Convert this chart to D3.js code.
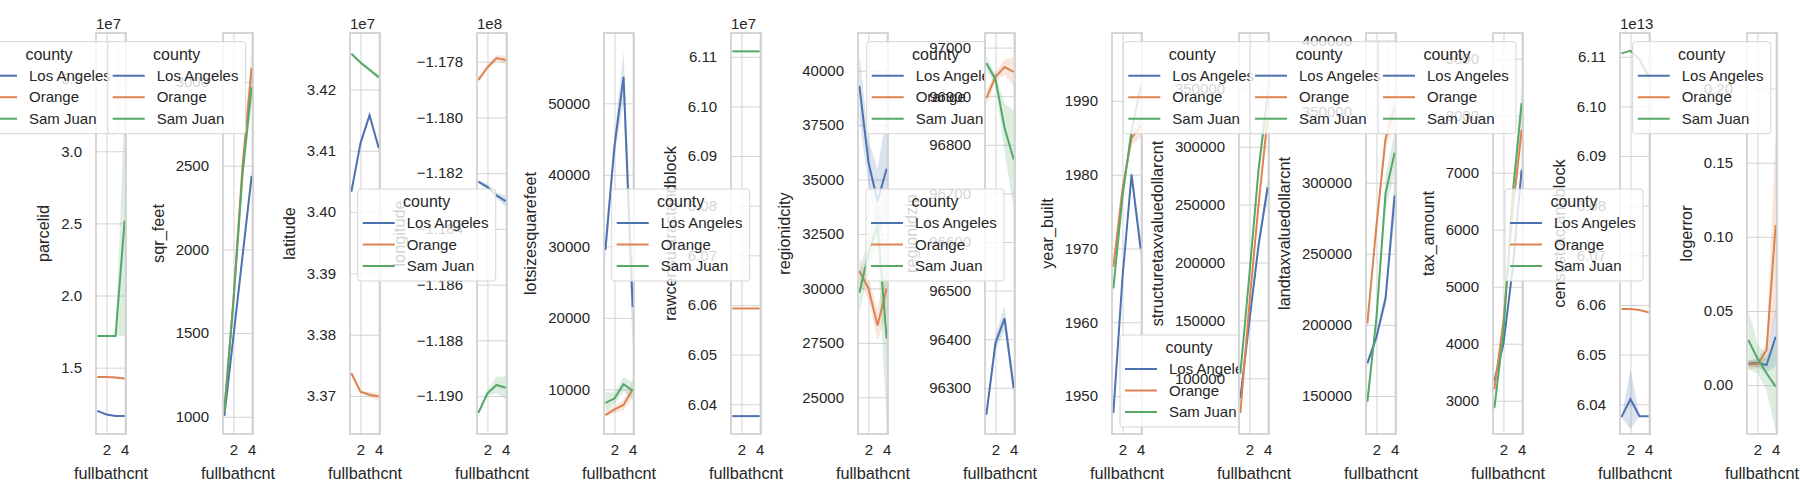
<!DOCTYPE html>
<html><head><meta charset="utf-8">
<script src="https://cdn.jsdelivr.net/npm/d3@7"></script>
<style>body{margin:0;background:#fff}text{font-family:"Liberation Sans",Arial,sans-serif;fill:#262626}</style>
</head><body><svg id="chart"></svg>
<script>
var xVals = [1, 2, 3, 4];
var counties = ["Los Angeles", "Orange", "Sam Juan"];
var colors = ["#4c72b0", "#dd8452", "#55a868"];
var yNames = ["parcelid","sqr_feet","latitude","longitude","lotsizesquarefeet","rawcensustractandblock","regionidcity","regionidzip","year_built","structuretaxvaluedollarcnt","landtaxvaluedollarcnt","tax_amount","censustractandblock","logerror"];
var offsets = ["1e7","","1e7","1e8","","1e7","","","","","","","1e13",""];
var yLimits = [[1.04,3.82],[897,3293],[3.3638,3.4292],[-1.19136,-1.17697],[3748,59832],[6.034,6.1148],[23313,41732],[96205,97030],[1944.85,1999.2],[51900,398187],[123270,405270],[2416,9451],[6.034,6.1148],[-0.033,0.2375]];
var yTicks = [
  [1.5,2.0,2.5,3.0,3.5],[1000,1500,2000,2500,3000],[3.37,3.38,3.39,3.40,3.41,3.42],
  [-1.190,-1.188,-1.186,-1.184,-1.182,-1.180,-1.178],[10000,20000,30000,40000,50000],
  [6.04,6.05,6.06,6.07,6.08,6.09,6.10,6.11],[25000,27500,30000,32500,35000,37500,40000],
  [96300,96400,96500,96600,96700,96800,96900,97000],[1950,1960,1970,1980,1990],
  [100000,150000,200000,250000,300000,350000],[150000,200000,250000,300000,350000,400000],
  [3000,4000,5000,6000,7000,8000,9000],[6.04,6.05,6.06,6.07,6.08,6.09,6.10,6.11],[0.00,0.05,0.10,0.15,0.20]];
var tickFormats = [".1f","d",".2f",".3f","d",".2f","d","d","d","d","d","d",".2f",".2f"];
var laVals = [[1.20,1.175,1.165,1.165],[1005,1480,1960,2440],[3.4033,3.4112,3.4158,3.4105],[-1.1823,-1.1825,-1.1828,-1.1830],[29500,44000,53700,21500],[6.0376,6.0376,6.0376,6.0376],[39300,35800,34000,35500],[96245,96392,96443,96300],[1947.7,1966,1980,1970],[83000,150000,215000,265000],[173000,191500,218500,291000],[3350,4000,5300,7050],[6.0374,6.0410,6.0376,6.0376],[0.0146,0.0150,0.0135,0.0326]];
var orVals = [[1.435,1.435,1.432,1.425],[1030,1700,2500,3085],[3.3737,3.3707,3.3702,3.3699],[-1.17865,-1.1782,-1.17787,-1.17794],[6400,7200,7800,10000],[6.0593,6.0593,6.0593,6.0593],[30800,30000,28300,30000],[96896,96940,96960,96950],[1967.5,1978,1985,1986.6],[70000,165000,250000,325000],[201000,270000,331000,353000],[3200,4400,6300,7750],[6.0592,6.0592,6.0590,6.0585],[0.014,0.014,0.0236,0.108]];
var sjVals = [[1.72,1.72,1.72,2.52],[1040,1690,2450,2970],[3.4258,3.4244,3.4232,3.4220],[-1.1906,-1.1899,-1.1896,-1.1897],[8100,8700,10700,9800],[6.1111,6.1111,6.1111,6.1111],[29800,31600,32900,27700],[96968,96935,96835,96770],[1964.6,1977,1986,1991.9],[104000,190000,280000,345000],[146000,205000,292500,321000],[2870,4200,6600,8220],[6.1107,6.1112,6.1095,6.1060],[0.0304,0.018,0.008,-0.001]];
var laErr = [[.005,.005,.005,.005],[10,20,30,40],[.0002,.0002,.0003,.0006],[.00005,.0001,.0001,.0002],[2000,1500,3500,5500],[0,0,0,0],[1500,1000,1500,2500],[10,15,25,20],[.5,.5,.8,1.5],[3000,3000,5000,8000],[3000,3000,5000,15000],[40,40,80,150],[0,.006,0,0],[.002,.003,.005,.02]];
var orErr = [[.005,.005,.005,.005],[15,25,40,120],[.0003,.0002,.0004,.0006],[.0001,.0001,.0001,.00015],[300,500,700,1200],[0,0,0,0],[600,500,700,1200],[15,10,15,30],[.7,.5,1,1.5],[3000,4000,6000,10000],[4000,5000,7000,12000],[60,60,100,200],[0,0,0,.0003],[.003,.003,.006,.06]];
var sjErr = [[0,0,0,.8],[15,30,50,90],[.0002,.0002,.0003,.0004],[.0001,.0001,.0003,.0004],[1500,800,1000,1200],[0,0,0,0],[1000,700,1000,4000],[15,10,50,100],[1,.5,.7,1],[4000,5000,7000,12000],[5000,5000,12000,15000],[70,60,120,300],[0,0,.0005,.001],[.02,.01,.012,.03]];
// legend boxes: [left, top, drawn after panel index]
var legendSpots = [[-20,41.7,0],[107.7,41.7,1],[357.7,189,3],[611.7,189,5],[866.7,41.7,6],[866,189,7],[1120,335,8],[1123.3,41.7,9],[1250,41.7,10],[1378,41.7,11],[1505,189,12],[1632.7,41.7,13]];

var W = 1800, H = 500, plotTop = 33, plotBottom = 434, pw = 30;
var svg = d3.select("#chart").attr("width", W).attr("height", H);

function drawLegend(bx, by) {
  var g = svg.append("g").attr("transform", "translate(" + bx + "," + by + ")");
  g.append("rect").attr("width", 138).attr("height", 92).attr("rx", 3)
    .attr("fill", "white").attr("fill-opacity", 0.8).attr("stroke", "#d6d6d6");
  g.append("text").attr("x", 69).attr("y", 18).attr("text-anchor", "middle").style("font-size", "16px").text("county");
  counties.forEach(function(c, i) {
    var y = 34 + i * 21.5;
    g.append("line").attr("x1", 5).attr("x2", 37).attr("y1", y).attr("y2", y).attr("stroke", colors[i]).attr("stroke-width", 2);
    g.append("text").attr("x", 49).attr("y", y + 5).style("font-size", "15px").text(c);
  });
}

yNames.forEach(function(name, p) {
  var left = 96 + 127 * p;
  var x = d3.scaleLinear().domain([0.85, 4.15]).range([left, left + pw]);
  var y = d3.scaleLinear().domain(yLimits[p]).range([plotBottom, plotTop]);
  var g = svg.append("g");
  g.append("rect").attr("x", left).attr("y", plotTop).attr("width", pw).attr("height", plotBottom - plotTop).attr("fill", "white");
  var fmt = d3.format(tickFormats[p]);
  var yAxis = d3.axisLeft(y).tickValues(yTicks[p]).tickFormat(fmt).tickSize(-pw).tickPadding(14);
  var ya = g.append("g").attr("transform", "translate(" + left + ",0)").call(yAxis);
  var xAxis = d3.axisBottom(x).tickValues([2, 4]).tickFormat(d3.format("d")).tickSize(-(plotBottom - plotTop)).tickPadding(10);
  var xa = g.append("g").attr("transform", "translate(0," + plotBottom + ")").call(xAxis);
  [ya, xa].forEach(function(a) {
    a.select(".domain").remove();
    a.selectAll(".tick line").attr("stroke", "#d4d4d4").attr("stroke-width", 1);
    a.selectAll(".tick text").style("font-size", "15px").attr("fill", "#262626");
  });
  var vals = [laVals[p], orVals[p], sjVals[p]], errs = [laErr[p], orErr[p], sjErr[p]];
  var clip = "clip" + p;
  g.append("clipPath").attr("id", clip).append("rect").attr("x", left).attr("y", plotTop).attr("width", pw).attr("height", plotBottom - plotTop);
  var plot = g.append("g").attr("clip-path", "url(#" + clip + ")");
  vals.forEach(function(v, s) {
    var pts = xVals.map(function(xv, i) { return {x: xv, y: v[i], e: errs[s][i]}; });
    plot.append("path").datum(pts).attr("fill", colors[s]).attr("fill-opacity", 0.2)
      .attr("d", d3.area().x(function(d) { return x(d.x); }).y0(function(d) { return y(d.y - d.e); }).y1(function(d) { return y(d.y + d.e); }));
    plot.append("path").datum(pts).attr("fill", "none").attr("stroke", colors[s]).attr("stroke-width", 2)
      .attr("d", d3.line().x(function(d) { return x(d.x); }).y(function(d) { return y(d.y); }));
  });
  g.append("rect").attr("x", left).attr("y", plotTop).attr("width", pw).attr("height", plotBottom - plotTop)
    .attr("fill", "none").attr("stroke", "#cccccc").attr("stroke-width", 1.6);
  g.append("text").attr("x", left + pw / 2).attr("y", 479).attr("text-anchor", "middle").style("font-size", "16.3px").text("fullbathcnt");
  var minX = d3.min(ya.selectAll(".tick text").nodes(), function(n) { return n.getBBox().x; });
  var lx = left + minX - 12;
  g.append("text").attr("transform", "translate(" + lx + "," + ((plotTop + plotBottom) / 2) + ") rotate(-90)")
    .attr("text-anchor", "middle").style("font-size", "16.3px").text(name);
  if (offsets[p]) g.append("text").attr("x", left).attr("y", 29).style("font-size", "15px").text(offsets[p]);
  legendSpots.forEach(function(l) { if (l[2] === p) drawLegend(l[0], l[1]); });
});
</script></body></html>
